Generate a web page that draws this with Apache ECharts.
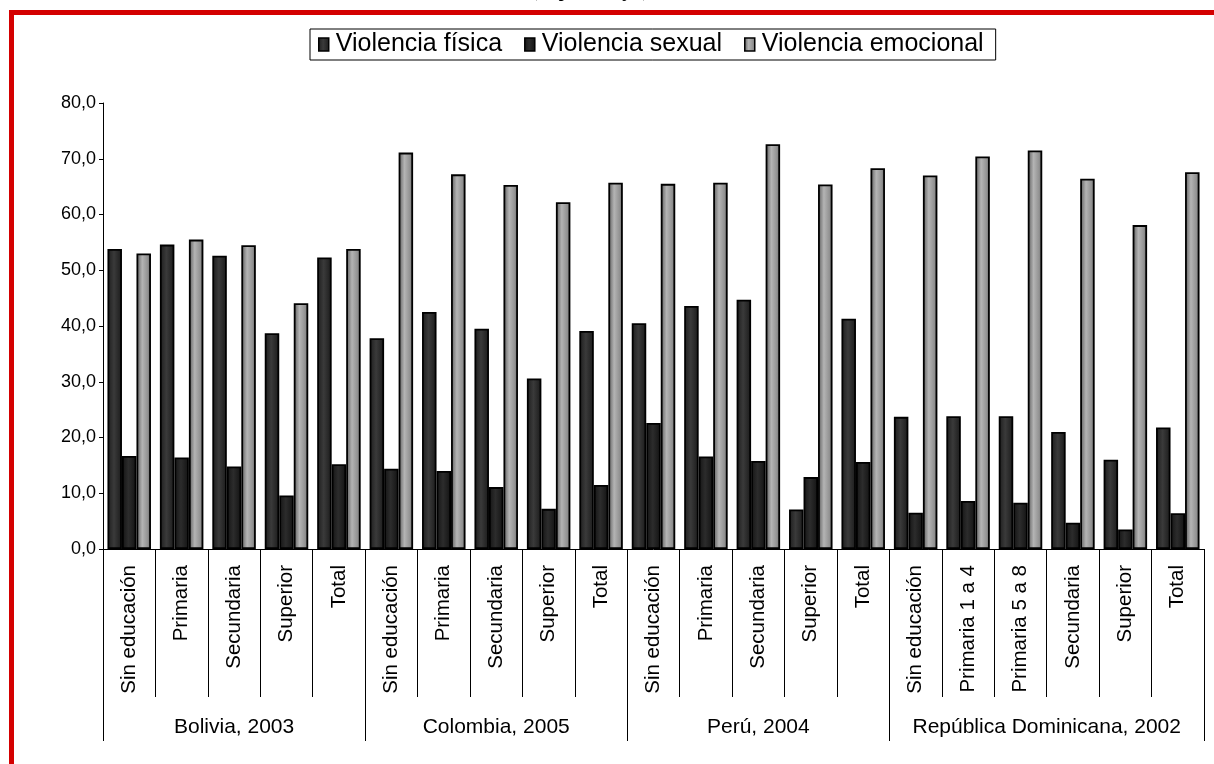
<!DOCTYPE html>
<html>
<head>
<meta charset="utf-8">
<script src="https://cdn.jsdelivr.net/npm/echarts@6/dist/echarts.min.js"></script>
<style>
html,body{margin:0;padding:0;background:#fff;}
#chart{width:1214px;height:764px;}
</style>
</head>
<body>
<div id="chart"></div>
<script>
const categories = [
  'Sin educación','Primaria','Secundaria','Superior','Total',
  'Sin educación','Primaria','Secundaria','Superior','Total',
  'Sin educación','Primaria','Secundaria','Superior','Total',
  'Sin educación','Primaria 1 a 4','Primaria 5 a 8','Secundaria','Superior','Total'
];
const groupNames = ['Bolivia, 2003','Colombia, 2005','Perú, 2004','República Dominicana, 2002'];
const groupBounds = [0, 5, 10, 15, 21];
const groupCenters = [2.5, 7.5, 12.5, 18];
const seriesNames = ['Violencia física','Violencia sexual','Violencia emocional'];
const fisica = [53.8,54.6,52.6,38.7,52.3, 37.8,42.5,39.5,30.6,39.1, 40.5,43.6,44.7,7.1,41.3, 23.7,23.8,23.8,21.0,16.0,21.8];
const sexual = [16.7,16.4,14.8,9.6,15.2, 14.4,14.0,11.1,7.2,11.5, 22.6,16.6,15.8,12.9,15.6, 6.5,8.6,8.3,4.7,3.5,6.4];
const emocional = [53.0,55.5,54.5,44.1,53.8, 71.1,67.2,65.3,62.2,65.7, 65.5,65.7,72.6,65.4,68.3, 67.0,70.4,71.5,66.4,58.1,67.6];
const yTicks = {min: 0, max: 80, interval: 10};

const chart = echarts.init(document.getElementById('chart'), null, {renderer: 'canvas'});
const grad = (stops) => new echarts.graphic.LinearGradient(0, 0, 1, 0, stops.map((c) => ({offset: c[0], color: c[1]})));
const fills = [
  grad([[0,'#1c1c1c'],[0.45,'#3a3a3a'],[1,'#1a1a1a']]),
  grad([[0,'#141414'],[0.45,'#2c2c2c'],[1,'#121212']]),
  grad([[0,'#5a5a5a'],[0.4,'#b4b4b4'],[0.8,'#909090'],[1,'#505050']])
];
const dataSets = [fisica, sexual, emocional];
const FONT = 'Liberation Sans';

const option = {
  animation: false,
  backgroundColor: '#fff',
  textStyle: {fontFamily: FONT, color: '#000'},
  graphic: [
    {type: 'rect', shape: {x: 11.5, y: 12.5, width: 1400, height: 1000},
     style: {fill: 'none', stroke: '#d40000', lineWidth: 5}, silent: true, z: 100},
    {type: 'text', x: 590, y: -16, z: 1,
     style: {text: '(en porcentajes)', font: 'bold 17px "Liberation Serif"', fill: '#000', align: 'center', verticalAlign: 'top'}}
  ],
  legend: {
    data: seriesNames,
    left: 310, top: 29,
    orient: 'horizontal',
    icon: 'rect',
    itemWidth: 10, itemHeight: 13, itemGap: 22,
    padding: [3, 12, 3, 8],
    borderColor: '#000', borderWidth: 1,
    textStyle: {fontFamily: FONT, fontSize: 25, color: '#000', padding: [0, 0, 0, 2]},
    itemStyle: {borderColor: '#000', borderWidth: 1.5}
  },
  grid: {left: 103, right: 10, top: 103, bottom: 215, containLabel: false},
  xAxis: [
    {
      type: 'category', data: categories, boundaryGap: true,
      axisLine: {show: true, lineStyle: {color: '#000', width: 1}},
      axisTick: {show: true, interval: 0, length: 148, lineStyle: {color: '#000', width: 1}},
      axisLabel: {interval: 0, rotate: 90, margin: 16, fontSize: 20.5, color: '#000', fontFamily: FONT}
    },
    {
      type: 'value', min: 0, max: 21, position: 'bottom',
      axisLine: {show: false},
      splitLine: {show: false},
      axisTick: {show: true, customValues: groupBounds, length: 192, lineStyle: {color: '#000', width: 1}},
      axisLabel: {show: true, customValues: groupCenters, margin: 168, fontSize: 21, color: '#000', fontFamily: FONT,
        formatter: (v) => groupNames[groupCenters.indexOf(v)] || ''}
    }
  ],
  yAxis: {
    type: 'value', min: yTicks.min, max: yTicks.max, interval: yTicks.interval,
    axisLine: {show: true, lineStyle: {color: '#000', width: 1}},
    axisTick: {show: true, length: 4, lineStyle: {color: '#000'}},
    splitLine: {show: false},
    axisLabel: {fontSize: 18, color: '#000', margin: 7, fontFamily: FONT,
      formatter: (v) => v.toFixed(1).replace('.', ',')}
  },
  series: seriesNames.map((name, i) => ({
    name, type: 'bar', xAxisIndex: 0, data: dataSets[i],
    barGap: '0%', barCategoryGap: '17%',
    itemStyle: {color: fills[i], borderColor: '#000', borderWidth: 1.8}
  }))
};
chart.setOption(option);
</script>
</body>
</html>
